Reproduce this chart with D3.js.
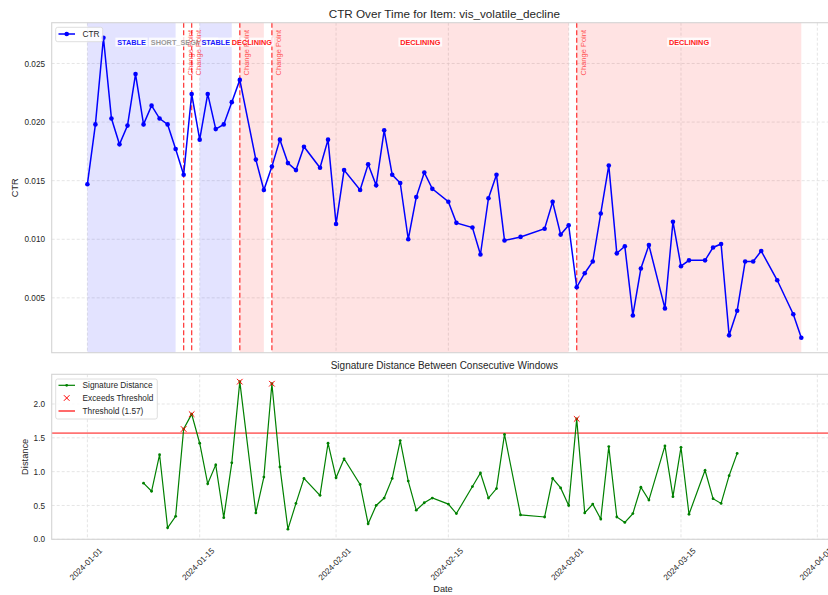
<!DOCTYPE html>
<html>
<head>
<meta charset="utf-8">
<script src="https://cdn.jsdelivr.net/npm/d3@7"></script>
<style>
    body { margin: 0; background: #fff; }
    svg { display: block; font-family: "Liberation Sans", Arial, sans-serif; }
</style>
</head>
<body>
<script>
// daily CTR (some days missing)
var ctrDates = [
    "2024-01-01", "2024-01-02", "2024-01-03", "2024-01-04", "2024-01-05", "2024-01-06", "2024-01-07",
    "2024-01-08", "2024-01-09", "2024-01-10", "2024-01-11", "2024-01-12", "2024-01-13", "2024-01-14",
    "2024-01-15", "2024-01-16", "2024-01-17", "2024-01-18", "2024-01-19", "2024-01-20",
    "2024-01-22", "2024-01-23", "2024-01-24", "2024-01-25", "2024-01-26", "2024-01-27", "2024-01-28",
    "2024-01-30", "2024-01-31", "2024-02-01", "2024-02-02",
    "2024-02-04", "2024-02-05", "2024-02-06", "2024-02-07", "2024-02-08", "2024-02-09", "2024-02-10",
    "2024-02-11", "2024-02-12", "2024-02-13", "2024-02-15", "2024-02-16",
    "2024-02-18", "2024-02-19", "2024-02-20", "2024-02-21", "2024-02-22", "2024-02-24",
    "2024-02-27", "2024-02-28", "2024-02-29", "2024-03-01", "2024-03-02", "2024-03-03", "2024-03-04",
    "2024-03-05", "2024-03-06", "2024-03-07", "2024-03-08", "2024-03-09", "2024-03-10", "2024-03-11",
    "2024-03-13", "2024-03-14", "2024-03-15", "2024-03-16",
    "2024-03-18", "2024-03-19", "2024-03-20", "2024-03-21", "2024-03-22", "2024-03-23", "2024-03-24",
    "2024-03-25", "2024-03-27", "2024-03-29", "2024-03-30"
];
var ctrValues = [
    0.0147, 0.0198, 0.0272, 0.0203, 0.0181, 0.0197, 0.0241,
    0.0198, 0.0214, 0.0203, 0.0198, 0.0177, 0.0155, 0.0224,
    0.0185, 0.0224, 0.0194, 0.0198, 0.0217, 0.0236,
    0.0168, 0.0142, 0.0162, 0.0185, 0.0165, 0.0159, 0.0179,
    0.0161, 0.0185, 0.0113, 0.0159,
    0.0142, 0.0164, 0.0146, 0.0193, 0.0155, 0.0148, 0.0100,
    0.0136, 0.0157, 0.0143, 0.0132, 0.0114,
    0.0110, 0.0087, 0.0135, 0.0155, 0.0099, 0.0102,
    0.0109, 0.0132, 0.0104, 0.0112, 0.0059, 0.0071, 0.0081,
    0.0122, 0.0163, 0.0088, 0.0094, 0.0035, 0.0075, 0.0095,
    0.0041, 0.0115, 0.0077, 0.0082,
    0.0082, 0.0093, 0.0096, 0.0018, 0.0039, 0.0081, 0.0081,
    0.0090, 0.0065, 0.0036, 0.0016
];

// signature distance, starts at the 8th day
var distValues = [
    0.83, 0.71, 1.25, 0.17, 0.34, 1.63, 1.85, 1.42, 0.82, 1.10, 0.32, 1.13, 2.33,
    0.39, 0.92, 2.30, 1.07, 0.15, 0.53, 0.90,
    0.65, 1.42, 0.91, 1.19,
    0.81, 0.23, 0.50, 0.61, 0.90, 1.46, 0.86, 0.43, 0.54, 0.61,
    0.52, 0.38,
    0.78, 0.98, 0.61, 0.75, 1.55,
    0.36,
    0.33, 0.90, 0.76, 0.50, 1.78, 0.39, 0.52, 0.30, 1.37, 0.33, 0.25, 0.38, 0.77, 0.58,
    1.38, 0.63, 1.36, 0.37,
    1.02, 0.60, 0.53, 0.94, 1.27
];
var distDates = ctrDates.slice(7, 7 + distValues.length);
var threshold = 1.57;

var changePoints = ["2024-01-13", "2024-01-14", "2024-01-20", "2024-01-24", "2024-03-02"];

var segStarts = ["2024-01-01", "2024-01-13", "2024-01-15", "2024-01-20", "2024-01-24", "2024-03-02"];
var segEnds = ["2024-01-12", "2024-01-13", "2024-01-19", "2024-01-23", "2024-03-01", "2024-03-30"];
var segTypes = ["STABLE", "SHORT_SEGMENT", "STABLE", "DECLINING", "DECLINING", "DECLINING"];

var dateTicks = ["2024-01-01", "2024-01-15", "2024-02-01", "2024-02-15", "2024-03-01", "2024-03-15", "2024-04-01"];
var ctrTicks = [0.005, 0.010, 0.015, 0.020, 0.025];
var distTicks = [0.0, 0.5, 1.0, 1.5, 2.0];

var typeColors = { "STABLE": "blue", "SHORT_SEGMENT": "gray", "DECLINING": "red" };
var typeText = { "STABLE": "#1a1aff", "SHORT_SEGMENT": "#9a9a9a", "DECLINING": "#ff2020" };

var width = 828;
var height = 595;
var parse = d3.utcParse("%Y-%m-%d");

var svg = d3.select("body").append("svg")
    .attr("width", width)
    .attr("height", height)
    .style("overflow", "hidden");

var left = 51.7, right = 837;
var t0 = parse(ctrDates[0]);
var t1 = parse(ctrDates[ctrDates.length - 1]);
var pad = (t1 - t0) * 0.05;
var xScale = d3.scaleUtc()
    .domain([new Date(+t0 - pad), new Date(+t1 + pad)])
    .range([left, right]);

var gridColor = "#dedede";
var spineColor = "#d4d4d4";
var textColor = "#262626";

drawTop();
drawBottom();

function drawGrid(g, yScale, yTicks, top, bottom) {
    g.selectAll(".hgrid")
        .data(yTicks)
        .enter()
        .append("line")
        .attr("x1", left).attr("x2", right)
        .attr("y1", function(d) { return yScale(d); })
        .attr("y2", function(d) { return yScale(d); })
        .attr("stroke", gridColor)
        .attr("stroke-width", 0.8)
        .attr("stroke-dasharray", "3,2");

    g.selectAll(".vgrid")
        .data(dateTicks)
        .enter()
        .append("line")
        .attr("x1", function(d) { return xScale(parse(d)); })
        .attr("x2", function(d) { return xScale(parse(d)); })
        .attr("y1", top).attr("y2", bottom)
        .attr("stroke", gridColor)
        .attr("stroke-width", 0.8)
        .attr("stroke-dasharray", "3,2");
}

function drawFrame(g, top, bottom) {
    g.append("rect")
        .attr("x", left).attr("y", top)
        .attr("width", right - left).attr("height", bottom - top)
        .attr("fill", "none")
        .attr("stroke", spineColor)
        .attr("stroke-width", 1.1);
}

function drawYAxis(g, yScale, ticks, fmt) {
    var axis = d3.axisLeft(yScale)
        .tickValues(ticks)
        .tickSize(0)
        .tickPadding(6.7)
        .tickFormat(d3.format(fmt));
    var a = g.append("g")
        .attr("transform", "translate(" + left + ",0)")
        .call(axis);
    a.select(".domain").remove();
    a.selectAll("text")
        .attr("font-size", "8.2px")
        .attr("fill", textColor)
        .attr("font-family", "Liberation Sans, Arial, sans-serif");
}

function drawTop() {
    var top = 22.7, bottom = 352.7;
    var g = svg.append("g");

    var yMin = d3.min(ctrValues), yMax = d3.max(ctrValues);
    var yPad = (yMax - yMin) * 0.05;
    var yScale = d3.scaleLinear()
        .domain([yMin - yPad, yMax + yPad])
        .range([bottom, top]);

    drawGrid(g, yScale, ctrTicks, top, bottom);

    // shaded segments
    segTypes.forEach(function(t, i) {
        if (t === "SHORT_SEGMENT") return;
        var x0 = xScale(parse(segStarts[i]));
        var x1 = xScale(parse(segEnds[i]));
        g.append("rect")
            .attr("x", x0).attr("y", top)
            .attr("width", x1 - x0).attr("height", bottom - top)
            .attr("fill", typeColors[t])
            .attr("fill-opacity", 0.11);
    });

    // change point lines
    g.selectAll(".cp")
        .data(changePoints)
        .enter()
        .append("line")
        .attr("x1", function(d) { return xScale(parse(d)); })
        .attr("x2", function(d) { return xScale(parse(d)); })
        .attr("y1", top).attr("y2", bottom)
        .attr("stroke", "red")
        .attr("stroke-opacity", 0.75)
        .attr("stroke-width", 1.3)
        .attr("stroke-dasharray", "5,2.5");

    var line = d3.line()
        .x(function(d, i) { return xScale(parse(ctrDates[i])); })
        .y(function(d) { return yScale(d); });

    g.append("path")
        .datum(ctrValues)
        .attr("d", line)
        .attr("fill", "none")
        .attr("stroke", "blue")
        .attr("stroke-width", 1.5);

    g.selectAll(".dot")
        .data(ctrValues)
        .enter()
        .append("circle")
        .attr("cx", function(d, i) { return xScale(parse(ctrDates[i])); })
        .attr("cy", function(d) { return yScale(d); })
        .attr("r", 2.3)
        .attr("fill", "blue");

    // segment labels
    segTypes.forEach(function(t, i) {
        var x0 = xScale(parse(segStarts[i]));
        var x1 = xScale(parse(segEnds[i]));
        var lab = g.append("g");
        var box = lab.append("rect");
        var txt = lab.append("text")
            .attr("x", (x0 + x1) / 2)
            .attr("y", 42)
            .attr("dy", "0.35em")
            .attr("text-anchor", "middle")
            .attr("font-size", "7.3px")
            .attr("font-weight", "bold")
            .attr("fill", typeText[t])
            .text(t);
        var w = txt.node().getComputedTextLength();
        box.attr("x", (x0 + x1) / 2 - w / 2 - 1.8)
            .attr("y", 37.6)
            .attr("width", w + 3.6)
            .attr("height", 9)
            .attr("fill", "white")
            .attr("fill-opacity", 0.8);
    });

    g.selectAll(".cptext")
        .data(changePoints)
        .enter()
        .append("text")
        .attr("transform", function(d) {
            return "translate(" + (xScale(parse(d)) + 9.5) + "," + (top + 7.3) + ") rotate(-90)";
        })
        .attr("text-anchor", "end")
        .attr("font-size", "7.5px")
        .attr("fill", "red")
        .attr("fill-opacity", 0.7)
        .text("Change Point");

    drawFrame(g, top, bottom);
    drawYAxis(g, yScale, ctrTicks, ".3f");

    // legend
    var lg = g.append("g");
    lg.append("rect")
        .attr("x", 55.7).attr("y", 27.3)
        .attr("width", 47).attr("height", 14.4)
        .attr("rx", 2)
        .attr("fill", "white").attr("fill-opacity", 0.85)
        .attr("stroke", "#d6d6d6").attr("stroke-width", 0.8);
    lg.append("line")
        .attr("x1", 58.5).attr("x2", 75)
        .attr("y1", 34).attr("y2", 34)
        .attr("stroke", "blue").attr("stroke-width", 1.5);
    lg.append("circle")
        .attr("cx", 66.7).attr("cy", 34).attr("r", 2.3)
        .attr("fill", "blue");
    lg.append("text")
        .attr("x", 82.5).attr("y", 34)
        .attr("dy", "0.35em")
        .attr("font-size", "8.3px")
        .attr("fill", textColor)
        .text("CTR");

    svg.append("text")
        .attr("x", (left + right) / 2)
        .attr("y", 14)
        .attr("dy", "0.35em")
        .attr("text-anchor", "middle")
        .attr("font-size", "11.7px")
        .attr("fill", textColor)
        .text("CTR Over Time for Item: vis_volatile_decline");

    svg.append("text")
        .attr("transform", "translate(15," + ((top + bottom) / 2) + ") rotate(-90)")
        .attr("text-anchor", "middle")
        .attr("dy", "0.35em")
        .attr("font-size", "9.2px")
        .attr("fill", textColor)
        .text("CTR");
}

function drawBottom() {
    var top = 374.3, bottom = 539.3;
    var g = svg.append("g");

    var dMin = d3.min(distValues), dMax = d3.max(distValues);
    var yScale = d3.scaleLinear()
        .domain([0, dMax + (dMax - dMin) * 0.05])
        .range([bottom, top]);

    drawGrid(g, yScale, distTicks, top, bottom);

    g.append("line")
        .attr("x1", left).attr("x2", right)
        .attr("y1", yScale(threshold)).attr("y2", yScale(threshold))
        .attr("stroke", "red")
        .attr("stroke-opacity", 0.55)
        .attr("stroke-width", 1.8);

    var line = d3.line()
        .x(function(d, i) { return xScale(parse(distDates[i])); })
        .y(function(d) { return yScale(d); });

    g.append("path")
        .datum(distValues)
        .attr("d", line)
        .attr("fill", "none")
        .attr("stroke", "green")
        .attr("stroke-width", 1.2);

    g.selectAll(".dot")
        .data(distValues)
        .enter()
        .append("circle")
        .attr("cx", function(d, i) { return xScale(parse(distDates[i])); })
        .attr("cy", function(d) { return yScale(d); })
        .attr("r", 1.4)
        .attr("fill", "green");

    var exceeds = distValues.map(function(d, i) { return { date: distDates[i], value: d }; })
        .filter(function(d) { return d.value > threshold; });

    g.selectAll(".ex")
        .data(exceeds)
        .enter()
        .append("path")
        .attr("transform", function(d) {
            return "translate(" + xScale(parse(d.date)) + "," + yScale(d.value) + ")";
        })
        .attr("d", "M-2.8,-2.8L2.8,2.8M-2.8,2.8L2.8,-2.8")
        .attr("stroke", "red")
        .attr("stroke-width", 1);

    drawFrame(g, top, bottom);
    drawYAxis(g, yScale, distTicks, ".1f");

    // rotated date labels
    var xAxis = d3.axisBottom(xScale)
        .tickValues(dateTicks.map(parse))
        .tickSize(0)
        .tickFormat(d3.utcFormat("%Y-%m-%d"));
    var xa = g.append("g")
        .attr("transform", "translate(0," + bottom + ")")
        .call(xAxis);
    xa.select(".domain").remove();
    xa.selectAll("text")
        .attr("x", 0).attr("y", 0)
        .attr("dy", "0.35em")
        .attr("text-anchor", "middle")
        .attr("transform", "translate(-2,24.7) rotate(-45)")
        .attr("font-size", "8.2px")
        .attr("fill", textColor)
        .attr("font-family", "Liberation Sans, Arial, sans-serif");

    // legend
    var lg = g.append("g");
    lg.append("rect")
        .attr("x", 55.7).attr("y", 379)
        .attr("width", 101.6).attr("height", 40)
        .attr("rx", 2)
        .attr("fill", "white").attr("fill-opacity", 0.85)
        .attr("stroke", "#d6d6d6").attr("stroke-width", 0.8);
    var rows = [385.3, 398, 411];
    lg.append("line")
        .attr("x1", 58.5).attr("x2", 75)
        .attr("y1", rows[0]).attr("y2", rows[0])
        .attr("stroke", "green").attr("stroke-width", 1.2);
    lg.append("circle")
        .attr("cx", 66.7).attr("cy", rows[0]).attr("r", 1.4)
        .attr("fill", "green");
    lg.append("path")
        .attr("transform", "translate(66.7," + rows[1] + ")")
        .attr("d", "M-2.8,-2.8L2.8,2.8M-2.8,2.8L2.8,-2.8")
        .attr("stroke", "red").attr("stroke-width", 1);
    lg.append("line")
        .attr("x1", 58.5).attr("x2", 75)
        .attr("y1", rows[2]).attr("y2", rows[2])
        .attr("stroke", "red").attr("stroke-opacity", 0.9).attr("stroke-width", 1.3);
    var labels = ["Signature Distance", "Exceeds Threshold", "Threshold (" + threshold.toFixed(2) + ")"];
    lg.selectAll(".lt")
        .data(labels)
        .enter()
        .append("text")
        .attr("x", 82.5)
        .attr("y", function(d, i) { return rows[i]; })
        .attr("dy", "0.35em")
        .attr("font-size", "8.3px")
        .attr("fill", textColor)
        .text(function(d) { return d; });

    svg.append("text")
        .attr("x", (left + right) / 2)
        .attr("y", 365.7)
        .attr("dy", "0.35em")
        .attr("text-anchor", "middle")
        .attr("font-size", "10px")
        .attr("fill", textColor)
        .text("Signature Distance Between Consecutive Windows");

    svg.append("text")
        .attr("transform", "translate(25," + ((top + bottom) / 2) + ") rotate(-90)")
        .attr("text-anchor", "middle")
        .attr("dy", "0.35em")
        .attr("font-size", "9.3px")
        .attr("fill", textColor)
        .text("Distance");

    svg.append("text")
        .attr("x", 443)
        .attr("y", 589)
        .attr("dy", "0.35em")
        .attr("text-anchor", "middle")
        .attr("font-size", "9.2px")
        .attr("fill", textColor)
        .text("Date");
}
</script>
</body>
</html>
